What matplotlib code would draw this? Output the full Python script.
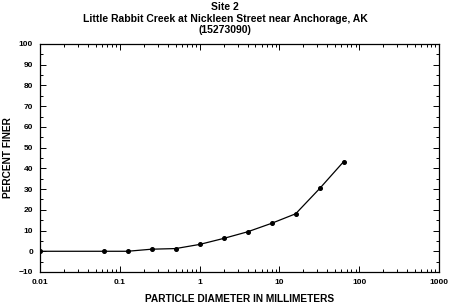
import matplotlib
matplotlib.use("Agg")
import matplotlib.pyplot as plt
from matplotlib.ticker import LogLocator, FixedLocator, MultipleLocator

plt.rcParams['font.family'] = ['Liberation Sans', 'DejaVu Sans']
plt.rcParams['font.weight'] = 'bold'

# grain size (mm) and percent finer
diameter = [0.01, 0.0625, 0.125, 0.25, 0.5, 1, 2, 4, 8, 16, 32, 64]
pct_finer = [0, 0, 0, 1.0, 1.3, 3.3, 6.2, 9.4, 13.5, 18.1, 30.3, 43.3]
xtick_labels = ['0.01', '0.1', '1', '10', '100', '1000']

fig = plt.figure(figsize=(4.5, 3.03), dpi=100)
ax = fig.add_axes([40 / 450, 1 - 272 / 303, 399 / 450, 228 / 303])

ax.plot(diameter, pct_finer, color='black', lw=0.9, marker='o', ms=2.6)

ax.set_xscale('log')
ax.set_xlim(0.01, 1000)
ax.set_ylim(-10, 100)
ax.xaxis.set_major_locator(FixedLocator([0.01, 0.1, 1, 10, 100, 1000]))
ax.set_xticklabels(xtick_labels)
ax.xaxis.set_minor_locator(LogLocator(base=10, subs=range(2, 10)))
ax.xaxis.set_minor_formatter(plt.NullFormatter())
ax.yaxis.set_major_locator(MultipleLocator(10))
ax.yaxis.set_minor_locator(MultipleLocator(5))

ax.tick_params(which='both', direction='in', top=True, right=True, labelsize=6, width=0.7)
ax.tick_params(which='major', length=4, pad=5)
ax.tick_params(which='minor', length=2)
for s in ax.spines.values():
    s.set_linewidth(0.9)

ax.set_xlabel('PARTICLE DIAMETER IN MILLIMETERS', fontsize=7.3, fontweight='bold', labelpad=6)
ax.set_ylabel('PERCENT FINER', fontsize=7.3, fontweight='bold')
ax.yaxis.set_label_coords(-0.068, 0.5)
fig.text(0.5, 0.993, 'Site 2\nLittle Rabbit Creek at Nickleen Street near Anchorage, AK\n(15273090)',
         ha='center', va='top', fontsize=7.5, fontweight='bold', linespacing=1.2)

fig.savefig('out.png', dpi=100)
